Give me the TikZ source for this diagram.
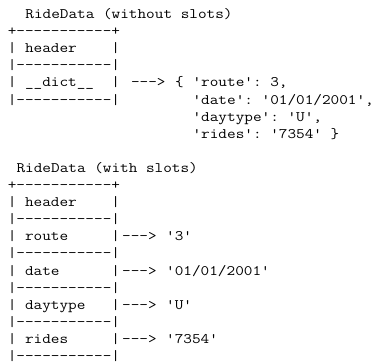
\documentclass[tikz,border=0pt]{standalone}
\usepackage{fontspec}
\newfontfamily\asciifont{Latin Modern Mono}[Ligatures=TeXOff, FakeStretch=1.156]

\tikzset{ascii/.style={anchor=base west, inner sep=0pt,
    font=\asciifont\fontsize{14.5pt}{17.1pt}\selectfont}}

\begin{document}
\begin{tikzpicture}
  \useasboundingbox (0,0) rectangle (375pt,-362pt);
  \begin{scope}[shift={(7.6pt,-18.5pt)}, x=8.8pt, y=-17.1pt]
  % RideData without slots
  \node[ascii] (title1) at (2,0) {RideData (without slots)};
  \node[ascii] (top1) at (0,1) {+-----------+};
  \node[ascii] (hdr1) at (0,2) {|\ header\ \ \ \ |};
  \node[ascii] (sep1a) at (0,3) {|-----------|};
  \node[ascii] (dict) at (0,4) {|\ \_\_dict\_\_\ \ |};
  \node[ascii] (arrdict) at (14,4) {--->};
  \node[ascii] (lbrace) at (19,4) {\{};
  \node[ascii] (kroute) at (21,4) {'route':\ 3,};
  \node[ascii] (sep1b) at (0,5) {|-----------|};
  \node[ascii] (kdate) at (21,5) {'date':\ '01/01/2001',};
  \node[ascii] (kdaytype) at (21,6) {'daytype':\ 'U',};
  \node[ascii] (krides) at (21,7) {'rides':\ '7354'\ \}};

  % RideData with slots
  \node[ascii] (title2) at (1,9) {RideData (with slots)};
  \node[ascii] (top2) at (0,10) {+-----------+};
  \node[ascii] (hdr2) at (0,11) {|\ header\ \ \ \ |};
  \node[ascii] (sep2a) at (0,12) {|-----------|};
  \node[ascii] (route) at (0,13) {|\ route\ \ \ \ \ |};
  \node[ascii] (arrroute) at (13,13) {--->};
  \node[ascii] (vroute) at (18,13) {'3'};
  \node[ascii] (sep2b) at (0,14) {|-----------|};
  \node[ascii] (date) at (0,15) {|\ date\ \ \ \ \ \ |};
  \node[ascii] (arrdate) at (13,15) {--->};
  \node[ascii] (vdate) at (18,15) {'01/01/2001'};
  \node[ascii] (sep2c) at (0,16) {|-----------|};
  \node[ascii] (daytype) at (0,17) {|\ daytype\ \ \ |};
  \node[ascii] (arrdaytype) at (13,17) {--->};
  \node[ascii] (vdaytype) at (18,17) {'U'};
  \node[ascii] (sep2d) at (0,18) {|-----------|};
  \node[ascii] (rides) at (0,19) {|\ rides\ \ \ \ \ |};
  \node[ascii] (arrrides) at (13,19) {--->};
  \node[ascii] (vrides) at (18,19) {'7354'};
  \node[ascii] (sep2e) at (0,20) {|-----------|};
  \end{scope}
\end{tikzpicture}
\end{document}
